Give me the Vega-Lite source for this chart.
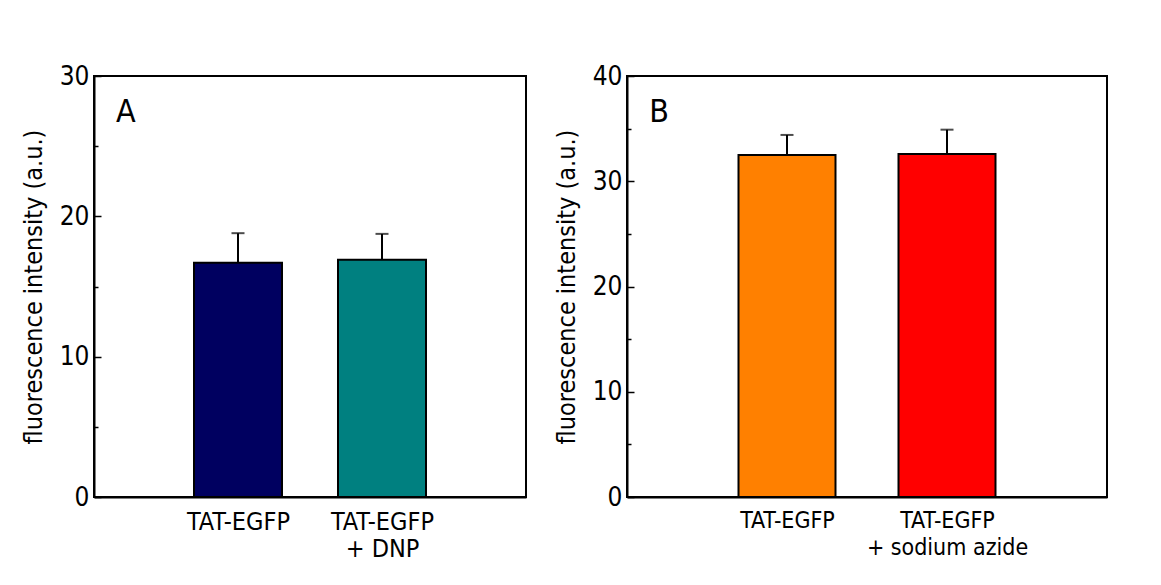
{
  "$schema": "https://vega.github.io/schema/vega-lite/v6.json",
  "background": "white",
  "padding": {"left": 20, "top": 62, "right": 10, "bottom": 5},
  "spacing": 26,
  "resolve": {"scale": {"fill": "independent"}},
  "config": {
    "view": {"stroke": "black", "strokeWidth": 2},
    "font": "DejaVu Sans Condensed",
    "axis": {
      "domainColor": "black", "domainWidth": 2,
      "tickColor": "black", "tickWidth": 1.5,
      "labelColor": "black", "titleColor": "black",
      "labelFont": "DejaVu Sans Condensed", "titleFont": "DejaVu Sans Condensed",
      "labelFontSize": 26, "titleFontSize": 25, "titleFontWeight": "normal",
      "grid": false
    },
    "text": {"font": "DejaVu Sans Condensed", "fontSize": 32, "color": "black"}
  },
  "hconcat": [
    {
      "width": 432, "height": 421,
      "resolve": {"scale": {"x": "independent"}},
      "layer": [
        {
          "data": {"values": [
            {"condition": "TAT-EGFP", "mean": 16.7, "upper": 18.8},
            {"condition": "TAT-EGFP|+ DNP", "mean": 16.9, "upper": 18.75}
          ]},
          "encoding": {
            "x": {"field": "condition", "type": "nominal", "sort": null,
              "scale": {"type": "point", "padding": 1},
              "axis": {"title": null, "ticks": false, "labelAngle": 0, "labelExpr": "split(datum.label, '|')",
                "labelBaseline": "top", "labelPadding": 12, "labelLineHeight": 27, "labelFontSize": 25}}
          },
          "layer": [
            {"mark": {"type": "rule", "strokeWidth": 2, "color": "black"},
             "encoding": {"y": {"field": "mean", "type": "quantitative"}, "y2": {"field": "upper"}}},
            {"mark": {"type": "tick", "size": 13, "thickness": 2, "color": "black", "orient": "horizontal"},
             "encoding": {"y": {"field": "upper", "type": "quantitative"}}},
            {"mark": {"type": "bar", "width": 88, "stroke": "black", "strokeWidth": 2},
             "encoding": {
               "y": {"field": "mean", "type": "quantitative", "scale": {"domain": [0, 30], "nice": false},
                 "axis": {"values": [0, 5, 10, 15, 20, 25, 30], "labelExpr": "datum.value % 10 === 0 ? datum.label : ''",
                   "tickSize": {"condition": {"test": "datum.value % 10 === 0", "value": -7}, "value": -4},
                   "title": "fluorescence intensity (a.u.)", "labelPadding": 12, "titlePadding": 13}},
               "fill": {"field": "condition", "type": "nominal", "legend": null,
                 "scale": {"domain": ["TAT-EGFP", "TAT-EGFP|+ DNP"], "range": ["#000060", "#008080"]}}
             }}
          ]
        },
        {
          "data": {"values": [{"panel": "A"}]},
          "mark": {"type": "text", "align": "center", "baseline": "alphabetic"},
          "encoding": {
            "text": {"field": "panel"},
            "x": {"datum": 0.074, "type": "quantitative", "scale": {"domain": [0, 1]}, "axis": null},
            "y": {"datum": 26.7, "type": "quantitative"}
          }
        }
      ]
    },
    {
      "width": 480, "height": 421,
      "resolve": {"scale": {"x": "independent"}},
      "layer": [
        {
          "data": {"values": [
            {"condition": "TAT-EGFP", "mean": 32.5, "upper": 34.4},
            {"condition": "TAT-EGFP|+ sodium azide", "mean": 32.6, "upper": 34.9}
          ]},
          "encoding": {
            "x": {"field": "condition", "type": "nominal", "sort": null,
              "scale": {"type": "point", "padding": 1},
              "axis": {"title": null, "ticks": false, "labelAngle": 0, "labelExpr": "split(datum.label, '|')",
                "labelBaseline": "top", "labelPadding": 12, "labelLineHeight": 27, "labelFontSize": 23}}
          },
          "layer": [
            {"mark": {"type": "rule", "strokeWidth": 2, "color": "black"},
             "encoding": {"y": {"field": "mean", "type": "quantitative"}, "y2": {"field": "upper"}}},
            {"mark": {"type": "tick", "size": 13, "thickness": 2, "color": "black", "orient": "horizontal"},
             "encoding": {"y": {"field": "upper", "type": "quantitative"}}},
            {"mark": {"type": "bar", "width": 97, "stroke": "black", "strokeWidth": 2},
             "encoding": {
               "y": {"field": "mean", "type": "quantitative", "scale": {"domain": [0, 40], "nice": false},
                 "axis": {"values": [0, 5, 10, 15, 20, 25, 30, 35, 40], "labelExpr": "datum.value % 10 === 0 ? datum.label : ''",
                   "tickSize": {"condition": {"test": "datum.value % 10 === 0", "value": -7}, "value": -4},
                   "title": "fluorescence intensity (a.u.)", "labelPadding": 12, "titlePadding": 13}},
               "fill": {"field": "condition", "type": "nominal", "legend": null,
                 "scale": {"domain": ["TAT-EGFP", "TAT-EGFP|+ sodium azide"], "range": ["#FF8000", "#FF0000"]}}
             }}
          ]
        },
        {
          "data": {"values": [{"panel": "B"}]},
          "mark": {"type": "text", "align": "center", "baseline": "alphabetic"},
          "encoding": {
            "text": {"field": "panel"},
            "x": {"datum": 0.067, "type": "quantitative", "scale": {"domain": [0, 1]}, "axis": null},
            "y": {"datum": 35.6, "type": "quantitative"}
          }
        }
      ]
    }
  ]
}
